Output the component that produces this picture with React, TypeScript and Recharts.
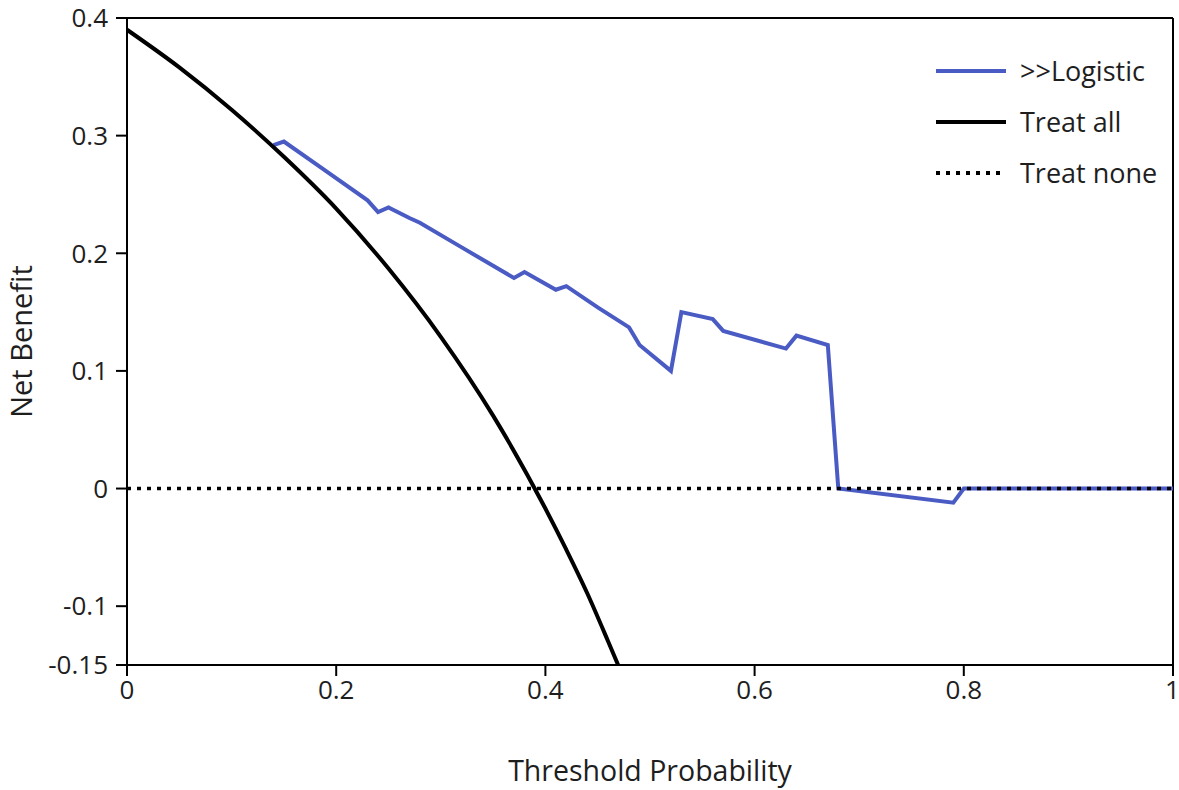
import React from "react";
import { LineChart, Line, XAxis, YAxis, ReferenceLine, Legend, Label } from "recharts";

// Logistic model net benefit curve
const logisticX = [0.14, 0.15, 0.19, 0.23, 0.24, 0.25, 0.27, 0.28, 0.32, 0.37, 0.38, 0.41, 0.42, 0.45, 0.48, 0.49, 0.52, 0.53, 0.56, 0.57, 0.63, 0.64, 0.67, 0.68, 0.79, 0.8, 0.9, 1.0];
const logisticY = [0.292, 0.295, 0.27, 0.245, 0.235, 0.239, 0.23, 0.226, 0.205, 0.179, 0.184, 0.169, 0.172, 0.154, 0.137, 0.122, 0.1, 0.15, 0.144, 0.134, 0.119, 0.13, 0.122, 0.0, -0.012, 0, 0, 0];

// Treat all curve
const treatAllX = [0, 0.05, 0.1, 0.15, 0.2, 0.25, 0.3, 0.35, 0.4, 0.42, 0.44, 0.46, 0.47];
const treatAllY = [0.39, 0.358, 0.322, 0.282, 0.238, 0.187, 0.129, 0.062, -0.017, -0.052, -0.089, -0.13, -0.151];

// Treat none
const treatNoneX = [0, 1];
const treatNoneY = [0, 0];

const xTicks = [0, 0.2, 0.4, 0.6, 0.8, 1];
const yTicks = [0.4, 0.3, 0.2, 0.1, 0, -0.1, -0.15];

const seriesNames = [">>Logistic", "Treat all", "Treat none"];

const logisticData = logisticX.map((x, i) => ({ x, y: logisticY[i] }));
const treatAllData = treatAllX.map((x, i) => ({ x, y: treatAllY[i] }));
const treatNoneData = treatNoneX.map((x, i) => ({ x, y: treatNoneY[i] }));

const FONT = "'Open Sans', 'Noto Sans', sans-serif";
const BLUE = "#4a5cc4";
const TEXT = "#1e1e1e";

const legendStyles = [
  { stroke: BLUE, width: 4, dash: undefined },
  { stroke: "#000", width: 4, dash: undefined },
  { stroke: "#000", width: 4, dash: "4 6" },
];

function LegendBox() {
  return (
    <div style={{ fontFamily: FONT, fontSize: 27, color: TEXT, lineHeight: 1 }}>
      {seriesNames.map((name, i) => (
        <div key={name} style={{ display: "flex", alignItems: "center", height: 51 }}>
          <svg width={84} height={20} style={{ flex: "none" }}>
            <line
              x1={0}
              y1={10}
              x2={70}
              y2={10}
              stroke={legendStyles[i].stroke}
              strokeWidth={legendStyles[i].width}
              strokeDasharray={legendStyles[i].dash}
            />
          </svg>
          <span style={{ whiteSpace: "nowrap" }}>{name}</span>
        </div>
      ))}
    </div>
  );
}

export default function App() {
  return (
    <div style={{ position: "absolute", left: 0, top: 0, background: "#fff" }}>
      <LineChart width={1179} height={790} margin={{ top: 18, right: 6, left: 0, bottom: 0 }}>
        <XAxis
          type="number"
          dataKey="x"
          domain={[0, 1]}
          ticks={xTicks}
          tickFormatter={(v) => String(v)}
          allowDuplicatedCategory={false}
          height={125}
          stroke="#000"
          strokeWidth={2}
          tickSize={11}
          tickMargin={5}
          tick={{ fill: TEXT, fontSize: 26, fontFamily: FONT }}
        >
          <Label
            value="Threshold Probability"
            position="insideBottom"
            offset={9}
            style={{ fill: TEXT, fontSize: 28.5, fontFamily: FONT }}
          />
        </XAxis>
        <YAxis
          type="number"
          dataKey="y"
          domain={[-0.15, 0.4]}
          ticks={yTicks}
          allowDataOverflow
          width={127}
          stroke="#000"
          strokeWidth={2}
          tickSize={11}
          tickMargin={8}
          tick={{ fill: TEXT, fontSize: 26, fontFamily: FONT }}
        >
          <Label
            value="Net Benefit"
            angle={-90}
            position="insideLeft"
            offset={22}
            style={{ fill: TEXT, fontSize: 29, fontFamily: FONT, textAnchor: "middle" }}
          />
        </YAxis>
        <ReferenceLine y={0.4} stroke="#000" strokeWidth={2} />
        <ReferenceLine x={1} stroke="#000" strokeWidth={2} />
        <Legend
          verticalAlign="middle"
          align="center"
          layout="horizontal"
          content={() => <LegendBox />}
          wrapperStyle={{ top: 45, left: 936, width: 240 }}
        />
        <Line
          data={logisticData}
          dataKey="y"
          name={seriesNames[0]}
          type="linear"
          stroke={BLUE}
          strokeWidth={4}
          dot={false}
          isAnimationActive={false}
        />
        <Line
          data={treatAllData}
          dataKey="y"
          name={seriesNames[1]}
          type="monotone"
          stroke="#000"
          strokeWidth={4}
          dot={false}
          isAnimationActive={false}
        />
        <Line
          data={treatNoneData}
          dataKey="y"
          name={seriesNames[2]}
          type="linear"
          stroke="#000"
          strokeWidth={3.5}
          strokeDasharray="4 6"
          dot={false}
          isAnimationActive={false}
        />
      </LineChart>
    </div>
  );
}
